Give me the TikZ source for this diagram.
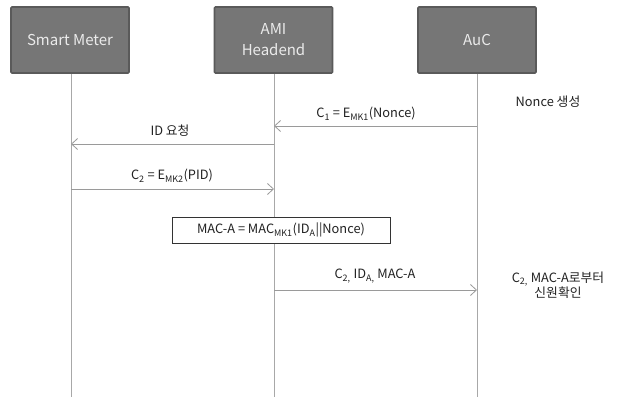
\documentclass[tikz,border=0pt]{standalone}
\usepackage{fontspec}
\setmainfont{Noto Sans CJK KR}
\usetikzlibrary{arrows.meta}
\definecolor{boxfill}{HTML}{767676}
\definecolor{boxline}{HTML}{5A5A5A}
\definecolor{lifegray}{HTML}{A8A8A8}
\definecolor{arrgray}{HTML}{9A9A9A}
\definecolor{txt}{HTML}{222222}
\begin{document}
\begin{tikzpicture}[x=1pt,y=-1pt,
  actor/.style={draw=boxline,line width=1.6pt,fill=boxfill,rounded corners=1pt,
    minimum width=118pt,minimum height=66pt,inner sep=0pt,text=white!92!black,
    font=\fontsize{15}{21}\selectfont,align=center},
  lifeline/.style={draw=lifegray,line width=0.8pt},
  msg/.style={draw=arrgray,line width=0.8pt,-{Straight Barb[length=6pt,width=11pt,line width=0.8pt]}},
  lbl/.style={font=\fontsize{12.8}{15}\selectfont,text=txt,inner sep=0pt,align=center},
  calc/.style={draw=black!80,line width=0.8pt,fill=white,minimum width=218pt,minimum height=26pt,
    inner sep=0pt,font=\fontsize{12.8}{15}\selectfont,text=txt}]
\useasboundingbox (0,0) rectangle (624,401);
\fill[white] (0,0) rectangle (624,401);
% lifeline ends
\coordinate (smE) at (71,397);
\coordinate (amiE) at (274,397);
\coordinate (aucE) at (477,397);
% actors
\node[actor] (sm) at (70,40) {Smart Meter};
\node[actor] (ami) at (273.5,40) {AMI\\Headend};
\node[actor] (auc) at (477,40) {AuC};
\draw[lifeline] (sm.south -| smE) -- (smE);
\draw[lifeline] (ami.south -| amiE) -- (amiE);
\draw[lifeline] (auc.south -| aucE) -- (aucE);
% message points
\coordinate (a1) at (477,126); \coordinate (b1) at (274,126);
\coordinate (a2) at (274,144); \coordinate (b2) at (71,144);
\coordinate (a3) at (71,189); \coordinate (b3) at (274,189);
\coordinate (a4) at (274,290); \coordinate (b4) at (477,290);
\draw[msg] (a1) -- (b1);
\draw[msg] (a2) -- (b2);
\draw[msg] (a3) -- (b3);
\draw[msg] (a4) -- (b4);
% labels
\node[lbl] (l1) at (366,114) {C\textsubscript{1} = E\textsubscript{MK1}(Nonce)};
\node[lbl] (l2) at (170,131) {ID 요청};
\node[lbl] (l3) at (172,176) {C\textsubscript{2} = E\textsubscript{MK2}(PID)};
\node[lbl] (l4) at (375,276) {C\textsubscript{2,} ID\textsubscript{A,} MAC-A};
\node[lbl] (n1) at (548,102) {Nonce 생성};
\node[lbl] (n2) at (558,285) {C\textsubscript{2,} MAC-A로부터\\[0pt]신원확인};
% calculation box
\node[calc] (mac) at (281,230) {MAC-A = MAC\textsubscript{MK1}(ID\textsubscript{A}||Nonce)};
\end{tikzpicture}
\end{document}
